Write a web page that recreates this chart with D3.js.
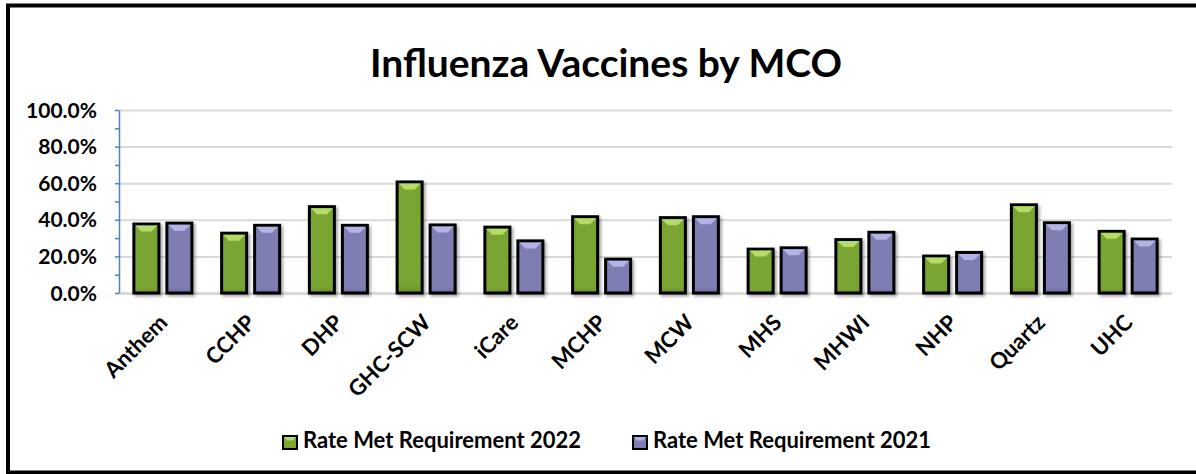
<!DOCTYPE html>
<html>
<head>
<meta charset="utf-8">
<script src="https://cdn.jsdelivr.net/npm/d3@7"></script>
<style>
  html, body { margin: 0; padding: 0; background: #fff; }
  svg { display: block; }
  text { font-family: Lato, "Open Sans", sans-serif; font-weight: bold; fill: #000; }
</style>
</head>
<body>
<div id="chart"></div>
<script>
// values (percent)
const categories = ['Anthem', 'CCHP', 'DHP', 'GHC-SCW', 'iCare', 'MCHP', 'MCW', 'MHS', 'MHWI', 'NHP', 'Quartz', 'UHC'];
const rate2022 = [38.5, 33.5, 48.0, 61.5, 36.8, 42.5, 42.0, 24.8, 30.0, 21.0, 49.0, 34.5];
const rate2021 = [39.0, 37.8, 37.8, 38.0, 29.3, 19.3, 42.5, 25.5, 34.0, 23.0, 39.2, 30.3];
const seriesNames = ['Rate Met Requirement 2022', 'Rate Met Requirement 2021'];
const yTicks = [0, 20, 40, 60, 80, 100];
const yMinorTicks = [0, 10, 20, 30, 40, 50, 60, 70, 80, 90, 100];
const title = 'Influenza Vaccines by MCO';

const width = 1196, height = 474;
const plot = { left: 119, right: 1172, top: 110, bottom: 293 };

const palette = [
    { base: '#7aa532', light: '#b4dc68', dark: '#6a9028' },
    { base: '#7e7eb3', light: '#b3b3e6', dark: '#6e6ea2' }
];

const svg = d3.select('#chart').append('svg')
    .attr('width', width)
    .attr('height', height);

const defs = svg.append('defs');
const shadow = defs.append('filter').attr('id', 'shadow')
    .attr('x', '-20%').attr('y', '-20%').attr('width', '150%').attr('height', '150%');
shadow.append('feDropShadow')
    .attr('dx', 2).attr('dy', 2).attr('stdDeviation', 1.5)
    .attr('flood-color', '#000').attr('flood-opacity', 0.35);

palette.forEach((p, i) => {
    const g = defs.append('linearGradient').attr('id', 'grad' + i)
        .attr('x1', 0).attr('y1', 0).attr('x2', 0).attr('y2', 1);
    g.append('stop').attr('offset', '0%').attr('stop-color', p.base);
    g.append('stop').attr('offset', '92%').attr('stop-color', p.base);
    g.append('stop').attr('offset', '100%').attr('stop-color', p.dark);
});

// frame
svg.append('rect')
    .attr('x', 8).attr('y', 5.5)
    .attr('width', 1200).attr('height', 467)
    .attr('fill', 'none').attr('stroke', '#000').attr('stroke-width', 4);

// title
svg.append('text')
    .attr('x', 606).attr('y', 77)
    .attr('text-anchor', 'middle')
    .style('font-size', '39px')
    .text(title);

const x = d3.scaleBand().domain(categories).range([plot.left, plot.right]);
const xInner = d3.scaleBand().domain([0, 1]).range([-30.5, 30.5]).paddingInner(0.1515);
const y = d3.scaleLinear().domain([0, 100]).range([plot.bottom, plot.top]);

// gridlines
svg.append('g')
    .attr('transform', `translate(${plot.left},0)`)
    .call(d3.axisLeft(y).tickValues(yTicks).tickSize(-(plot.right - plot.left)).tickFormat(''))
    .call(g => g.select('.domain').remove())
    .call(g => g.selectAll('.tick line')
        .attr('stroke', '#d9d9d9')
        .attr('stroke-width', d => d === 0 ? 3 : 2));

// y axis line + minor ticks
svg.append('g')
    .attr('transform', `translate(${plot.left},0)`)
    .call(d3.axisLeft(y).tickValues(yMinorTicks).tickSize(4).tickSizeOuter(0).tickFormat(''))
    .call(g => g.select('.domain').attr('stroke', '#4f81bd').attr('stroke-width', 1.5))
    .call(g => g.selectAll('.tick line').attr('stroke', '#4f81bd').attr('stroke-width', 1.5));

// y labels
svg.append('g')
    .selectAll('text')
    .data(yTicks)
    .join('text')
    .attr('x', 97)
    .attr('y', d => y(d))
    .attr('dy', '0.36em')
    .attr('text-anchor', 'end')
    .style('font-size', '21px')
    .text(d => d.toFixed(1) + '%');

// bars
const series = [rate2022, rate2021];
const barsG = svg.append('g');
series.forEach((vals, si) => {
    const p = palette[si];
    const bw = xInner.bandwidth();
    const grp = barsG.append('g').attr('class', 'series' + si);
    const cells = grp.selectAll('g')
        .data(categories.map((c, i) => ({ cat: c, v: vals[i] })))
        .join('g')
        .attr('transform', d => `translate(${x(d.cat) + x.bandwidth() / 2 + xInner(si)},0)`);

    cells.append('rect')
        .attr('x', 1.5)
        .attr('y', d => y(d.v) + 1.5)
        .attr('width', bw - 3)
        .attr('height', d => y(0) - y(d.v) - 1.5)
        .attr('fill', `url(#grad${si})`)
        .attr('stroke', '#000')
        .attr('stroke-width', 3)
        .attr('filter', 'url(#shadow)');

    // light bevel on top
    cells.append('path')
        .attr('fill', p.light)
        .attr('d', d => {
            const t = y(d.v) + 3;
            return `M3,${t} L${bw - 3},${t} L${bw - 9},${t + 6} L9,${t + 6} Z`;
        });
});

// x labels
svg.append('g')
    .selectAll('text')
    .data(categories)
    .join('text')
    .attr('text-anchor', 'end')
    .attr('transform', d => `translate(${x(d) + x.bandwidth() / 2 + 6},324) rotate(-45)`)
    .style('font-size', '22px')
    .text(d => d);

// legend
const legendX = [282, 632];
const legend = svg.append('g')
    .selectAll('g')
    .data(seriesNames)
    .join('g')
    .attr('transform', (d, i) => `translate(${legendX[i]},435)`);

legend.append('rect')
    .attr('x', 1).attr('y', 1)
    .attr('width', 14).attr('height', 13)
    .attr('fill', (d, i) => palette[i].base)
    .attr('stroke', '#000').attr('stroke-width', 2);
legend.append('path')
    .attr('fill', (d, i) => palette[i].light)
    .attr('d', 'M2,2 L14,2 L11,5.5 L5,5.5 Z');
legend.append('text')
    .attr('x', 21).attr('y', 13)
    .style('font-size', '22px')
    .text(d => d);
</script>
</body>
</html>
